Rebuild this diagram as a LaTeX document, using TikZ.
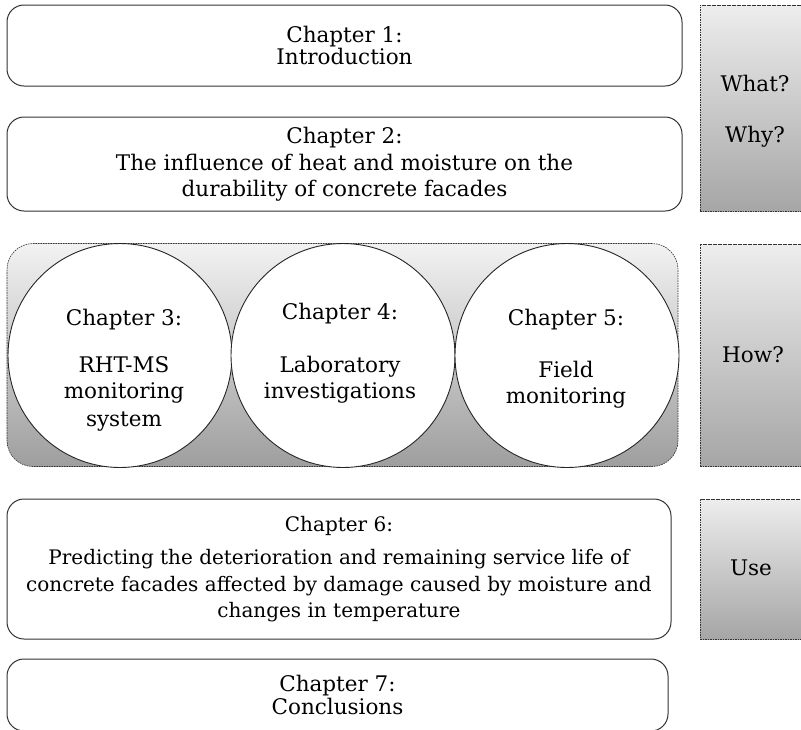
\documentclass[tikz,border=0pt]{standalone}
\usepackage{fontspec}
\setmainfont{DejaVu Serif}
\begin{document}
\begin{tikzpicture}[x=1pt,y=-1pt,
  font=\fontsize{21.5}{26}\selectfont,
  chapbox/.style={draw=black!80,line width=1pt,fill=white,rounded corners=17pt,
    align=center,inner sep=0pt},
  sidebox/.style={draw=black!80,line width=0.6pt,dash pattern=on 1.6pt off 0.9pt,
    top color=black!7,bottom color=black!35,inner sep=0pt,align=center},
  chapcircle/.style={draw=black!85,line width=0.9pt,fill=white,circle,
    minimum size=224pt,inner sep=0pt,align=center}]
\useasboundingbox (0,0) rectangle (801,729);
\clip (0,0) rectangle (801,729);

% right-hand question panels
\node[sidebox,minimum width=120pt,minimum height=206pt] (qwhat) at (760,108) {};
\node at (755,83) (twhat) {What?};
\node at (755,137) (twhy) {Why?};
\node[sidebox,minimum width=120pt,minimum height=222pt] (qhow) at (760,355) {};
\node at (753,355) (thow) {How?};
\node[sidebox,minimum width=120pt,minimum height=140pt] (quse) at (760,569) {};
\node at (751,568) (tuse) {Use};

% chapter boxes
\node[chapbox,minimum width=675pt,minimum height=81pt] (ch1) at (344.5,45.5)
  {Chapter 1:\\[-4pt]Introduction};
\node[chapbox,minimum width=675pt,minimum height=94pt] (ch2) at (344.5,164)
  {Chapter 2:\\[1pt]The influence of heat and moisture on the\\[0pt]durability of concrete facades};

% group of the three investigation chapters
\node[draw=black!80,line width=0.6pt,dash pattern=on 1.6pt off 0.9pt,
  top color=black!5,bottom color=black!38,rounded corners=26pt,
  minimum width=671pt,minimum height=223pt,inner sep=0pt] (grp) at (342.5,355) {};
\node[chapcircle] (ch3) at (120,355.5) {};
\node[chapcircle] (ch4) at (343,355.5) {};
\node[chapcircle] (ch5) at (567,355.5) {};
\node at (124,320) (t3a) {Chapter 3:};
\node[align=center] at (124,394) (t3b) {RHT-MS\\[0pt]monitoring\\[2pt]system};
\node at (340,314) (t4a) {Chapter 4:};
\node[align=center] at (340,380) (t4b) {Laboratory\\[0pt]investigations};
\node at (566,320) (t5a) {Chapter 5:};
\node[align=center] at (566,385) (t5b) {Field\\[0pt]monitoring};

\node[chapbox,minimum width=664pt,minimum height=140pt,
  font=\fontsize{20}{26}\selectfont] (ch6) at (339,569)
  {Chapter 6:\\[7pt]Predicting the deterioration and remaining service life of\\[1pt]concrete facades affected by damage caused by moisture and\\[0pt]changes in temperature};
\node[chapbox,minimum width=661pt,minimum height=72pt] (ch7) at (337.5,695)
  {Chapter 7:\\[-3pt]Conclusions};
\end{tikzpicture}
\end{document}
